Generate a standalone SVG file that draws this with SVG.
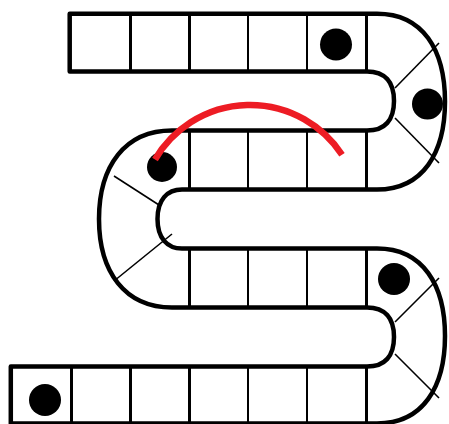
<svg xmlns="http://www.w3.org/2000/svg" width="449" height="424" viewBox="0 0 449 424">
<style>
.edge{fill:none;stroke:#000;stroke-width:4.5;stroke-linejoin:round}
.div{stroke:#000;stroke-width:2.5;shape-rendering:crispEdges}
.diag{stroke:#000;stroke-width:1.6}
.dot{fill:#000}
.red{fill:none;stroke:#ed1c24;stroke-width:6.5}
</style>
<rect width="449" height="424" fill="#fff"/>
<g id="track">
<path class="edge" d="M69.7,13.7 H377 C423,13.7 445,50 445,101.6 C445,153 423,189.5 377,189.5 H182 C167,189.5 157.5,200 157.5,219 C157.5,238 167,248.5 182,248.5 H377 C423,248.5 445,285 445,336 C445,387 423,423.5 377,423.5 H10.8 V366.5 H367 C385,366.5 394,356 394,337 C394,318 385,307.5 367,307.5 H172 C125,307.5 99,272 99,219 C99,166 125,130.5 172,130.5 H367 C385,130.5 394,120 394,101 C394,82 385,71.5 367,71.5 H69.7 Z"/>
</g>
<g id="row1-cells">
<line class="div" x1="130.5" y1="13.7" x2="130.5" y2="71.5"/>
<line class="div" x1="189.5" y1="13.7" x2="189.5" y2="71.5"/>
<line class="div" x1="248" y1="13.7" x2="248" y2="71.5"/>
<line class="div" x1="307" y1="13.7" x2="307" y2="71.5"/>
<line class="div" x1="366.5" y1="13.7" x2="366.5" y2="71.5"/>
</g>
<g id="row2-cells">
<line class="div" x1="189.5" y1="130.5" x2="189.5" y2="189.5"/>
<line class="div" x1="248" y1="130.5" x2="248" y2="189.5"/>
<line class="div" x1="307" y1="130.5" x2="307" y2="189.5"/>
<line class="div" x1="366.5" y1="130.5" x2="366.5" y2="189.5"/>
</g>
<g id="row3-cells">
<line class="div" x1="189.5" y1="248.5" x2="189.5" y2="307.5"/>
<line class="div" x1="248" y1="248.5" x2="248" y2="307.5"/>
<line class="div" x1="307" y1="248.5" x2="307" y2="307.5"/>
<line class="div" x1="366.5" y1="248.5" x2="366.5" y2="307.5"/>
</g>
<g id="row4-cells">
<line class="div" x1="71.5" y1="366.5" x2="71.5" y2="424"/>
<line class="div" x1="130.5" y1="366.5" x2="130.5" y2="424"/>
<line class="div" x1="189.5" y1="366.5" x2="189.5" y2="424"/>
<line class="div" x1="248" y1="366.5" x2="248" y2="424"/>
<line class="div" x1="307" y1="366.5" x2="307" y2="424"/>
<line class="div" x1="366.5" y1="366.5" x2="366.5" y2="424"/>
</g>
<g id="turn-dividers">
<line class="diag" x1="395" y1="88" x2="439" y2="43"/>
<line class="diag" x1="395" y1="118" x2="439" y2="163"/>
<line class="diag" x1="114" y1="176" x2="159" y2="205"/>
<line class="diag" x1="172" y1="234" x2="114" y2="281"/>
<line class="diag" x1="395" y1="322" x2="439" y2="278"/>
<line class="diag" x1="395" y1="354" x2="439" y2="398"/>
</g>
<g id="tokens">
<circle class="dot" cx="336" cy="44.5" r="16"/>
<circle class="dot" cx="427.5" cy="104" r="15.5"/>
<circle class="dot" cx="162" cy="167" r="15"/>
<circle class="dot" cx="394" cy="279" r="16"/>
<circle class="dot" cx="45" cy="400" r="16"/>
</g>
<g id="move-arc">
<path class="red" d="M155,159.5 A110,110 0 0 1 342,154.7"/>
</g>
</svg>
